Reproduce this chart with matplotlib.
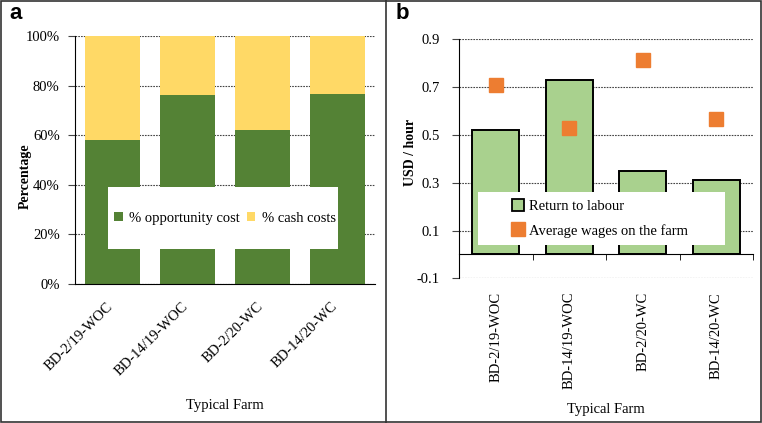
import matplotlib.pyplot as plt
import matplotlib as mpl
from matplotlib.patches import Rectangle
from matplotlib.lines import Line2D
from matplotlib.patches import Patch
from matplotlib.transforms import ScaledTranslation

mpl.rcParams['font.family'] = 'Liberation Serif'
mpl.rcParams['font.size'] = 10.5

# data
farms = ['BD-2/19-WOC', 'BD-14/19-WOC', 'BD-2/20-WC', 'BD-14/20-WC']
opportunity = [58, 76, 62, 76.5]
cash = [42, 24, 38, 23.5]
return_labour = [0.52, 0.73, 0.35, 0.31]
avg_wages = [0.71, 0.53, 0.815, 0.565]

green_dark = '#548235'
yellow = '#FFD966'
green_light = '#A9D18E'
orange = '#ED7D31'
grid_style = dict(color='#444444', linestyle=(0, (1.5, 1)), linewidth=0.8)

fig = plt.figure(figsize=(7.62, 4.23), dpi=100)
x = range(len(farms))

# ---- panel a
ax1 = fig.add_axes([0.0984, 0.3286, 0.3937, 0.5864])
ax1.bar(x, opportunity, 0.73, color=green_dark, zorder=2, label='% opportunity cost')
ax1.bar(x, cash, 0.73, bottom=opportunity, color=yellow, zorder=2, label='% cash costs')
ax1.set_xlim(-0.5, 3.5)
ax1.set_ylim(0, 100)
ax1.set_yticks([0, 20, 40, 60, 80, 100])
ax1.set_yticklabels(['%d%%' % v for v in [0, 20, 40, 60, 80, 100]])
ax1.yaxis.grid(True, **grid_style)
ax1.set_axisbelow(True)
ax1.set_xticks(list(x))
ax1.set_xticklabels(farms, rotation=45, ha='right', va='center_baseline',
                    rotation_mode='anchor')
ax1.tick_params(axis='x', length=0, pad=14)
ax1.tick_params(axis='y', length=5, color='#444444', pad=6)
shift = ScaledTranslation(-2 / 72, 0, fig.dpi_scale_trans)
for lbl in ax1.get_xticklabels():
    lbl.set_transform(lbl.get_transform() + shift)
for s in ['top', 'right']:
    ax1.spines[s].set_visible(False)
ax1.set_ylabel('Percentage', fontweight='bold', fontsize=10)
ax1.yaxis.set_label_coords(-0.145, 0.435)
ax1.set_xlabel('Typical Farm')
ax1.xaxis.set_label_coords(0.5, -0.465)
ax1.add_patch(Rectangle((0.11, 0.141), 0.767, 0.25, transform=ax1.transAxes,
                        facecolor='white', edgecolor='none', zorder=5))
leg1 = ax1.legend(loc='center', bbox_to_anchor=(0.5, 0.266), ncol=2, frameon=False,
                  handlelength=0.6, handleheight=0.6, handletextpad=0.45, columnspacing=0.45,
                  fontsize=10.5)
leg1.set_zorder(6)

# ---- panel b
ax2 = fig.add_axes([0.6024, 0.342, 0.3858, 0.565])
ax2.bar(x, return_labour, 0.635, color=green_light, edgecolor='black', linewidth=1.4,
        zorder=2, label='Return to labour')
ax2.plot(x, avg_wages, 's', color=orange, markersize=10, linestyle='none', zorder=3,
         label='Average wages on the farm')
ax2.set_xlim(-0.5, 3.5)
ax2.set_ylim(-0.1, 0.9)
ax2.set_yticks([-0.1, 0.1, 0.3, 0.5, 0.7, 0.9])
ax2.set_yticklabels(['-0.1', '0.1', '0.3', '0.5', '0.7', '0.9'])
ax2.yaxis.grid(True, **grid_style)
ax2.set_axisbelow(True)
ax2.spines['bottom'].set_position(('data', 0))
for s in ['top', 'right']:
    ax2.spines[s].set_visible(False)
ax2.set_xticks(list(x))
ax2.set_xticklabels(farms, rotation=90, va='top')
ax2.set_xticks([0.5, 1.5, 2.5, 3.5], minor=True)
ax2.tick_params(axis='x', which='major', length=0, pad=27)
ax2.tick_params(axis='x', which='minor', length=4)
ax2.tick_params(axis='y', length=5, color='#444444', pad=9)
ax2.set_ylabel('USD / hour', fontweight='bold', fontsize=10)
ax2.yaxis.set_label_coords(-0.143, 0.528)
ax2.set_xlabel('Typical Farm')
ax2.xaxis.set_label_coords(0.5, -0.52)
ax2.add_patch(Rectangle((0.064, 0.139), 0.841, 0.223, transform=ax2.transAxes,
                        facecolor='white', edgecolor='none', zorder=5))
handles = [Patch(facecolor=green_light, edgecolor='black', linewidth=1.3),
           Line2D([], [], marker='s', color=orange, linestyle='none', markersize=10)]
leg2 = ax2.legend(handles, ['Return to labour', 'Average wages on the farm'],
                  loc='center', bbox_to_anchor=(0.48, 0.25), frameon=False,
                  handlelength=0.8, handleheight=0.8, handletextpad=0.4,
                  labelspacing=0.75, fontsize=10.5)
leg2.set_zorder(6)

# panel letters and frame
fig.text(0.012, 0.955, 'a', fontsize=16, fontweight='bold', family='Liberation Sans')
fig.text(0.519, 0.955, 'b', fontsize=16, fontweight='bold', family='Liberation Sans')
fig.add_artist(Rectangle((0.001, 0.002), 0.998, 0.996, transform=fig.transFigure,
                         facecolor='none', edgecolor='#333333', linewidth=1.2))
fig.add_artist(Line2D([0.507, 0.507], [0, 1], transform=fig.transFigure,
                      color='#333333', linewidth=1.2))

fig.savefig('out.png', dpi=100)
